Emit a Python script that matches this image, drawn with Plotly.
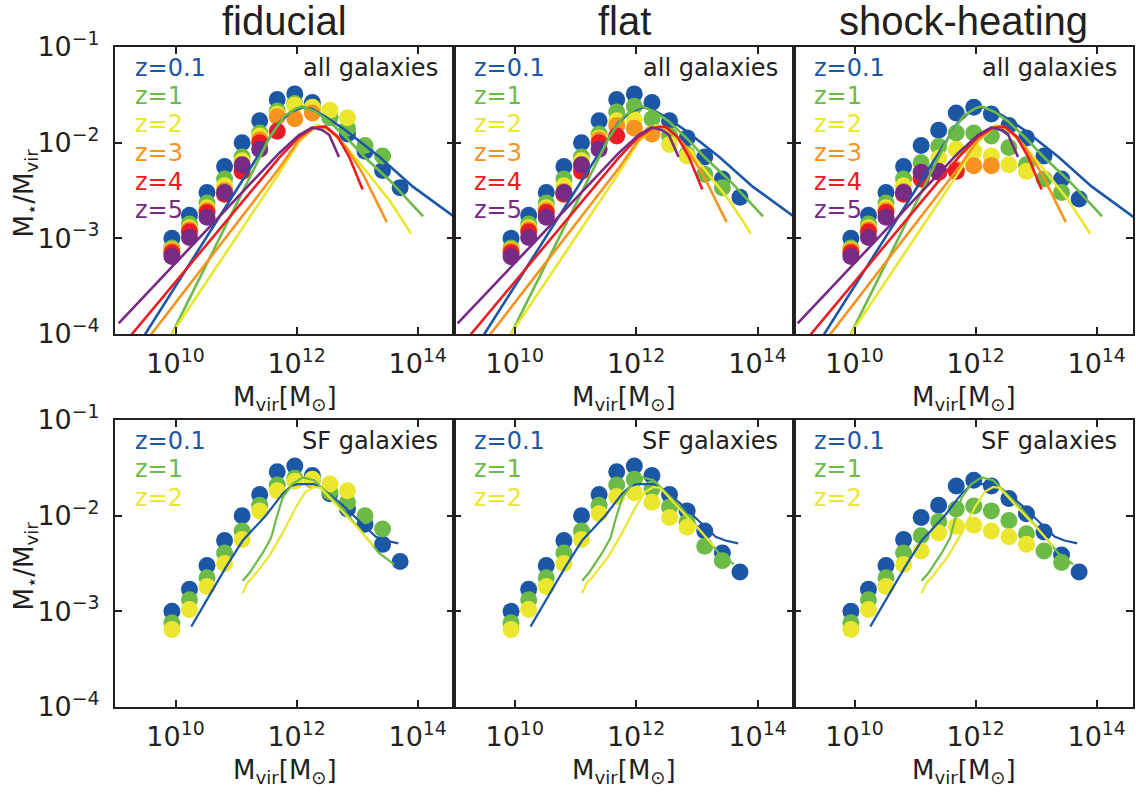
import plotly.graph_objects as go

W, H = 1136, 794
INK = "#231f20"
FONT = "DejaVu Sans"
TITLE_FONT = "Liberation Sans"

# ---------------- data ----------------
# log10 of halo-mass bin centres [Msun]
LOGM_BINS = [9.94, 10.23, 10.52, 10.81, 11.10, 11.39, 11.68, 11.97,
             12.26, 12.55, 12.84, 13.13, 13.42, 13.71]

Z_LABELS = ["z=0.1", "z=1", "z=2", "z=3", "z=4", "z=5"]
Z_COLORS = ["#1c57a6", "#6bbb46", "#ebe62e", "#f7931e", "#ec1c24", "#782b85"]
PANEL_TITLES = ["fiducial", "flat", "shock-heating"]

# model log10(M*/Mvir), all galaxies
FID_ALL_Z01 = [-3.00, -2.76, -2.52, -2.25, -2.00, -1.77, -1.55, -1.49, -1.58, -1.73, -1.91, -2.09, -2.29, -2.47]
FID_ALL_Z1 = [-3.10, -2.85, -2.63, -2.38, -2.15, -1.90, -1.67, -1.59, -1.64, -1.74, -1.85, -2.03, -2.14]
FID_ALL_Z2 = [-3.12, -2.89, -2.68, -2.45, -2.19, -1.93, -1.70, -1.61, -1.63, -1.66, -1.74]
FID_ALL_Z3 = [-3.13, -2.91, -2.71, -2.50, -2.24, -1.97, -1.73, -1.75, -1.69]
FID_ALL_Z4 = [-3.15, -2.93, -2.73, -2.54, -2.30, -2.00, -1.88]
FID_ALL_Z5 = [-3.19, -2.99, -2.78, -2.52, -2.23, -2.07]

FLAT_ALL_Z01 = [-3.00, -2.76, -2.52, -2.25, -2.00, -1.77, -1.55, -1.49, -1.58, -1.77, -1.95, -2.15, -2.38, -2.57]
FLAT_ALL_Z1 = [-3.10, -2.85, -2.63, -2.38, -2.15, -1.91, -1.68, -1.62, -1.75, -1.93, -2.12, -2.33, -2.47]
FLAT_ALL_Z2 = [-3.12, -2.89, -2.68, -2.45, -2.19, -1.95, -1.77, -1.76, -1.91, -2.02, -2.14]
FLAT_ALL_Z3 = [-3.13, -2.91, -2.71, -2.51, -2.24, -1.97, -1.82, -1.85, -1.91]
FLAT_ALL_Z4 = [-3.15, -2.93, -2.73, -2.54, -2.30, -2.00, -1.93]
FLAT_ALL_Z5 = [-3.19, -2.99, -2.78, -2.52, -2.23, -2.07]

SHOCK_ALL_Z01 = [-3.00, -2.76, -2.52, -2.25, -2.03, -1.87, -1.69, -1.63, -1.70, -1.82, -1.95, -2.14, -2.38, -2.59]
SHOCK_ALL_Z1 = [-3.10, -2.85, -2.63, -2.38, -2.21, -2.04, -1.90, -1.90, -1.93, -2.05, -2.23, -2.38, -2.52]
SHOCK_ALL_Z2 = [-3.12, -2.89, -2.68, -2.45, -2.31, -2.16, -2.07, -2.09, -2.14, -2.23, -2.30]
SHOCK_ALL_Z3 = [-3.13, -2.91, -2.71, -2.51, -2.38, -2.31, -2.28, -2.24, -2.24]
SHOCK_ALL_Z4 = [-3.15, -2.93, -2.73, -2.54, -2.38, -2.31, -2.30]
SHOCK_ALL_Z5 = [-3.19, -2.99, -2.78, -2.52, -2.31, -2.30]

# model log10(M*/Mvir), star-forming galaxies
FID_SF_Z01 = [-3.00, -2.77, -2.52, -2.26, -2.00, -1.78, -1.54, -1.48, -1.58, -1.77, -1.93, -2.09, -2.30, -2.48]
FID_SF_Z1 = [-3.12, -2.88, -2.65, -2.39, -2.16, -1.89, -1.68, -1.61, -1.63, -1.75, -1.86, -2.00, -2.14]
FID_SF_Z2 = [-3.19, -2.98, -2.74, -2.50, -2.25, -1.95, -1.74, -1.64, -1.62, -1.67, -1.74]

FLAT_SF_Z01 = [-3.00, -2.77, -2.52, -2.26, -2.00, -1.78, -1.54, -1.48, -1.58, -1.78, -1.95, -2.16, -2.39, -2.59]
FLAT_SF_Z1 = [-3.12, -2.88, -2.65, -2.39, -2.16, -1.89, -1.68, -1.62, -1.72, -1.91, -2.07, -2.32, -2.47]
FLAT_SF_Z2 = [-3.19, -2.98, -2.74, -2.50, -2.25, -1.98, -1.80, -1.76, -1.86, -2.02, -2.12]

SHOCK_SF_Z01 = [-3.00, -2.77, -2.52, -2.25, -2.02, -1.89, -1.69, -1.63, -1.69, -1.82, -1.98, -2.17, -2.41, -2.59]
SHOCK_SF_Z1 = [-3.12, -2.88, -2.65, -2.39, -2.21, -2.06, -1.93, -1.90, -1.95, -2.05, -2.19, -2.37, -2.49]
SHOCK_SF_Z2 = [-3.19, -2.98, -2.74, -2.51, -2.37, -2.18, -2.11, -2.10, -2.16, -2.22, -2.30]

# empirical relations (log10 Mvir, log10 M*/Mvir), all galaxies
OBS_ALL_Z01_LOGM = [9.40, 11.24, 11.50, 11.71, 11.90, 12.10, 12.26, 12.48, 12.81, 13.37, 13.92, 14.70]
OBS_ALL_Z01_LOGR = [-4.10, -2.26, -2.00, -1.79, -1.68, -1.63, -1.65, -1.73, -1.87, -2.15, -2.46, -2.82]
OBS_ALL_Z1_LOGM = [9.86, 11.55, 11.80, 12.00, 12.10, 12.32, 12.54, 12.81, 13.14, 13.53, 14.09]
OBS_ALL_Z1_LOGR = [-4.10, -1.95, -1.72, -1.64, -1.62, -1.68, -1.78, -1.94, -2.16, -2.39, -2.77]
OBS_ALL_Z2_LOGM = [9.83, 11.71, 12.04, 12.26, 12.32, 12.43, 12.59, 12.81, 13.14, 13.53, 13.89]
OBS_ALL_Z2_LOGR = [-4.10, -2.32, -1.99, -1.85, -1.82, -1.83, -1.90, -2.04, -2.29, -2.60, -2.95]
OBS_ALL_Z3_LOGM = [9.48, 11.71, 12.04, 12.26, 12.37, 12.50, 12.65, 12.81, 13.09, 13.49]
OBS_ALL_Z3_LOGR = [-4.10, -2.27, -1.97, -1.86, -1.83, -1.85, -1.92, -2.04, -2.32, -2.83]
OBS_ALL_Z4_LOGM = [9.15, 11.71, 12.04, 12.26, 12.48, 12.68, 12.87, 13.09]
OBS_ALL_Z4_LOGR = [-4.10, -2.16, -1.94, -1.85, -1.83, -1.94, -2.15, -2.49]
OBS_ALL_Z5_LOGM = [9.06, 11.71, 12.04, 12.26, 12.43, 12.54, 12.70]
OBS_ALL_Z5_LOGR = [-3.89, -2.11, -1.92, -1.84, -1.87, -1.92, -2.15]

# empirical relations, star-forming galaxies
OBS_SF_Z01_LOGM = [10.26, 10.56, 10.84, 11.11, 11.36, 11.49, 11.77, 11.91, 12.02, 12.29, 12.43, 12.76, 13.09, 13.31, 13.47, 13.68]
OBS_SF_Z01_LOGR = [-3.16, -2.84, -2.53, -2.26, -2.09, -2.00, -1.77, -1.69, -1.67, -1.67, -1.72, -1.89, -2.09, -2.22, -2.26, -2.29]
OBS_SF_Z1_LOGM = [11.11, 11.22, 11.44, 11.58, 11.66, 11.77, 11.93, 12.10, 12.29, 12.48, 12.76, 13.09, 13.36, 13.61]
OBS_SF_Z1_LOGR = [-2.68, -2.60, -2.39, -2.23, -2.04, -1.81, -1.67, -1.60, -1.63, -1.75, -1.93, -2.18, -2.39, -2.51]
OBS_SF_Z2_LOGM = [11.11, 11.19, 11.27, 11.55, 11.77, 11.99, 12.15, 12.29, 12.40, 12.54, 12.76, 13.03, 13.28]
OBS_SF_Z2_LOGR = [-2.81, -2.70, -2.65, -2.42, -2.18, -1.91, -1.75, -1.70, -1.71, -1.81, -1.96, -2.14, -2.32]

X_TICKS = [1e10, 1e12, 1e14]
X_TICK_TEXT = ["10<sup>10</sup>", "10<sup>12</sup>", "10<sup>14</sup>"]
Y_TICKS = [1e-4, 1e-3, 1e-2, 1e-1]
Y_TICK_TEXT = ["10<sup>\u22124</sup>", "10<sup>\u22123</sup>", "10<sup>\u22122</sup>", "10<sup>\u22121</sup>"]

# ---------------- layout geometry (pixels) ----------------
PANEL_X = [(115, 454), (454, 794), (794, 1133)]
ROW_Y = [(47, 334), (420, 707)]


def px(x):
    return x / W


def py(y):
    return 1 - y / H


TOP_POINTS = [
    [FID_ALL_Z01, FID_ALL_Z1, FID_ALL_Z2, FID_ALL_Z3, FID_ALL_Z4, FID_ALL_Z5],
    [FLAT_ALL_Z01, FLAT_ALL_Z1, FLAT_ALL_Z2, FLAT_ALL_Z3, FLAT_ALL_Z4, FLAT_ALL_Z5],
    [SHOCK_ALL_Z01, SHOCK_ALL_Z1, SHOCK_ALL_Z2, SHOCK_ALL_Z3, SHOCK_ALL_Z4, SHOCK_ALL_Z5],
]
BOTTOM_POINTS = [
    [FID_SF_Z01, FID_SF_Z1, FID_SF_Z2],
    [FLAT_SF_Z01, FLAT_SF_Z1, FLAT_SF_Z2],
    [SHOCK_SF_Z01, SHOCK_SF_Z1, SHOCK_SF_Z2],
]
ALL_LINES = [
    (OBS_ALL_Z01_LOGM, OBS_ALL_Z01_LOGR),
    (OBS_ALL_Z1_LOGM, OBS_ALL_Z1_LOGR),
    (OBS_ALL_Z2_LOGM, OBS_ALL_Z2_LOGR),
    (OBS_ALL_Z3_LOGM, OBS_ALL_Z3_LOGR),
    (OBS_ALL_Z4_LOGM, OBS_ALL_Z4_LOGR),
    (OBS_ALL_Z5_LOGM, OBS_ALL_Z5_LOGR),
]
SF_LINES = [
    (OBS_SF_Z01_LOGM, OBS_SF_Z01_LOGR),
    (OBS_SF_Z1_LOGM, OBS_SF_Z1_LOGR),
    (OBS_SF_Z2_LOGM, OBS_SF_Z2_LOGR),
]

fig = go.Figure()
layout_axes = {}
annotations = []

for r in range(2):
    for c in range(3):
        k = r * 3 + c + 1
        sfx = "" if k == 1 else str(k)
        xa, ya = "x" + sfx, "y" + sfx
        points = TOP_POINTS[c] if r == 0 else BOTTOM_POINTS[c]
        lines = ALL_LINES if r == 0 else SF_LINES

        # simulated galaxies: filled circles, low redshift underneath
        for i, vals in enumerate(points):
            fig.add_trace(go.Scatter(
                x=[10 ** m for m in LOGM_BINS[:len(vals)]],
                y=[10 ** v for v in vals],
                mode="markers",
                marker=dict(size=17, color=Z_COLORS[i], line=dict(width=0)),
                xaxis=xa, yaxis=ya, showlegend=False, hoverinfo="skip"))
        # abundance-matching relations drawn on top
        for i, (lm, lr) in enumerate(lines):
            fig.add_trace(go.Scatter(
                x=[10 ** m for m in lm],
                y=[10 ** v for v in lr],
                mode="lines",
                line=dict(color=Z_COLORS[i], width=2.6 if r == 0 else 2.2),
                xaxis=xa, yaxis=ya, showlegend=False, hoverinfo="skip"))

        x0, x1 = PANEL_X[c]
        y0, y1 = ROW_Y[r]
        common = dict(
            ticks="inside", ticklen=7, tickwidth=1.6, tickcolor=INK,
            showline=True, linewidth=2, linecolor=INK, mirror="allticks",
            showgrid=False, zeroline=False, automargin=False,
            tickfont=dict(family=FONT, size=27, color=INK),
        )
        layout_axes["xaxis" + sfx] = dict(
            domain=[px(x0), px(x1)], anchor=ya, type="log", range=[9, 14.6],
            tickvals=X_TICKS, ticktext=X_TICK_TEXT, ticklabelstandoff=5, **common)
        layout_axes["yaxis" + sfx] = dict(
            domain=[py(y1), py(y0)], anchor=xa, type="log", range=[-4, -1],
            tickvals=Y_TICKS, ticktext=Y_TICK_TEXT, showticklabels=(c == 0),
            ticklabelstandoff=8, **common)

        # x-axis title under each panel
        annotations.append(dict(
            x=px((x0 + x1) / 2), y=py(y1 + 64), xref="paper", yref="paper",
            text="M<sub>vir</sub>[M<sub>\u2299</sub>]", showarrow=False,
            xanchor="center", yanchor="middle",
            font=dict(family=FONT, size=26, color=INK)))

        # redshift key
        labels = Z_LABELS[:len(points)]
        for i, lab in enumerate(labels):
            annotations.append(dict(
                x=px(x0 + 18), y=py(y0 + 20.5 + 28.5 * i), xref="paper", yref="paper",
                text=lab, showarrow=False, xanchor="left", yanchor="middle",
                font=dict(family=FONT, size=24, color=Z_COLORS[i])))
        annotations.append(dict(
            x=px(x1 - 14), y=py(y0 + 20.5), xref="paper", yref="paper",
            text="all galaxies" if r == 0 else "SF galaxies", showarrow=False,
            xanchor="right", yanchor="middle",
            font=dict(family=FONT, size=24, color=INK)))

    # y-axis title for each row
    y0, y1 = ROW_Y[r]
    annotations.append(dict(
        x=px(25), y=py((y0 + y1) / 2 + 3), xref="paper", yref="paper",
        text="M<sub>\u22c6</sub>/M<sub>vir</sub>", showarrow=False, textangle=-90,
        xanchor="center", yanchor="middle",
        font=dict(family=FONT, size=26, color=INK)))

for c, title in enumerate(PANEL_TITLES):
    x0, x1 = PANEL_X[c]
    annotations.append(dict(
        x=px((x0 + x1) / 2), y=py(21), xref="paper", yref="paper",
        text=title, showarrow=False, xanchor="center", yanchor="middle",
        font=dict(family=TITLE_FONT, size=40, color=INK)))

fig.update_layout(
    width=W, height=H,
    margin=dict(l=0, r=0, t=0, b=0, autoexpand=False),
    paper_bgcolor="white", plot_bgcolor="white",
    annotations=annotations,
    **layout_axes,
)

fig.write_html("out.html")
